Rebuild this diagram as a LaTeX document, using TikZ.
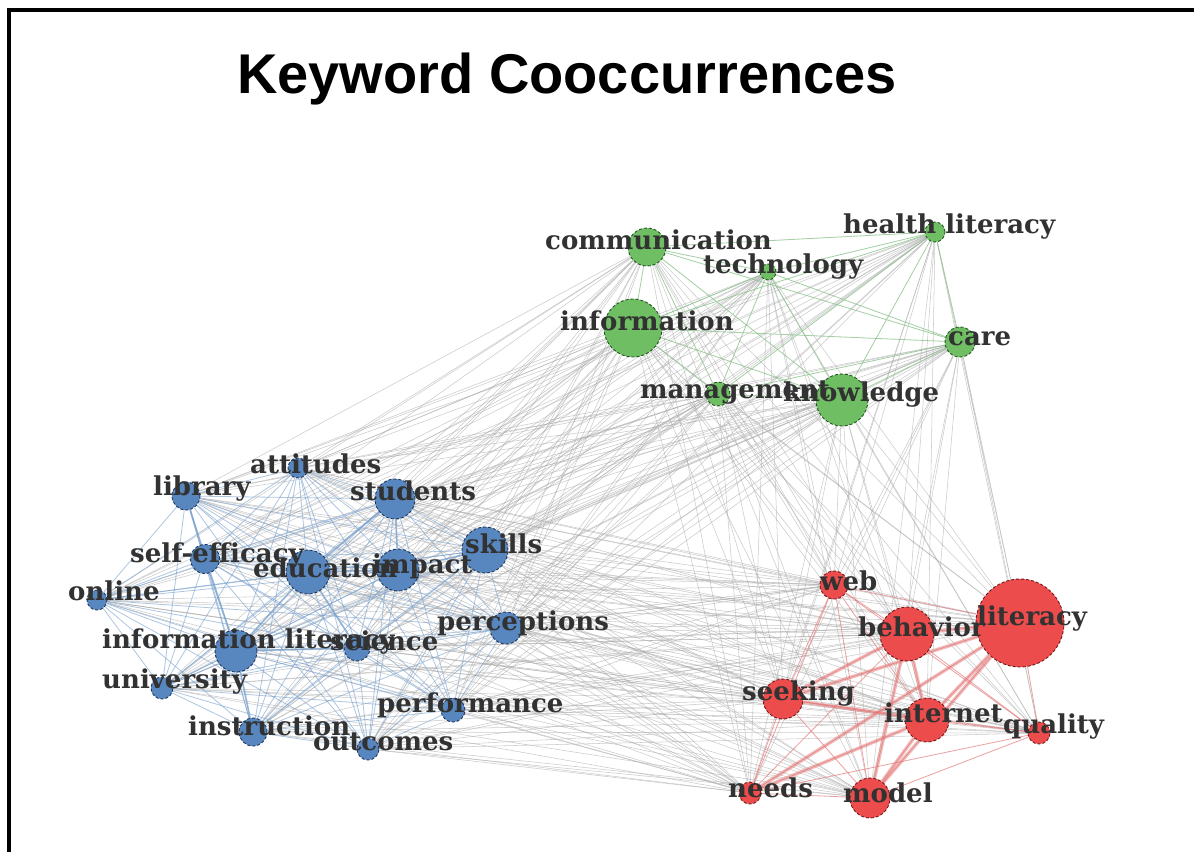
\documentclass[tikz,border=0pt]{standalone}
\usepackage{fontspec}
\setmainfont{DejaVu Serif}
\newfontfamily\titlefont{Liberation Sans}
\pgfdeclarelayer{bg}
\pgfdeclarelayer{edges}
\pgfsetlayers{bg,edges,main}
\definecolor{bfill}{RGB}{88,134,190}
\definecolor{bdraw}{RGB}{30,55,95}
\definecolor{gfill}{RGB}{112,190,100}
\definecolor{gdraw}{RGB}{35,85,35}
\definecolor{rfill}{RGB}{236,76,76}
\definecolor{rdraw}{RGB}{115,25,25}
\definecolor{bedgec}{RGB}{120,160,205}
\definecolor{gedgec}{RGB}{140,195,140}
\definecolor{redgec}{RGB}{228,120,120}
\definecolor{xedgec}{RGB}{170,170,170}
\definecolor{lblc}{RGB}{50,50,50}
\tikzset{
  kw/.style={circle, inner sep=0pt, line width=0.9pt, densely dashed},
  bnode/.style={kw, fill=bfill, draw=bdraw},
  gnode/.style={kw, fill=gfill, draw=gdraw},
  rnode/.style={kw, fill=rfill, draw=rdraw},
  lbl/.style={text=lblc, inner sep=0pt, anchor=base west, font=\bfseries\fontsize{26}{28}\selectfont},
  xedge/.style={draw=xedgec, line width=0.55pt, opacity=0.6},
  bedge/.style={draw=bedgec, line width=0.8pt, opacity=0.6},
  bthick/.style={draw=bedgec, line width=1.8pt, opacity=0.6},
  gedge/.style={draw=gedgec, line width=0.8pt, opacity=0.8},
  redge/.style={draw=redgec, line width=0.8pt, opacity=0.7},
  rthick/.style={draw=redgec, line width=3.5pt, opacity=0.5},
}
\begin{document}
\begin{tikzpicture}[x=1pt,y=-1pt]
\useasboundingbox (0,0) rectangle (1194,852);
\begin{pgfonlayer}{bg}
\fill[white] (0,0) rectangle (1194,852);
\end{pgfonlayer}
\draw[line width=4pt] (9,852) -- (9,10) -- (1194,10);

\node[font=\titlefont\bfseries\fontsize{56}{60}\selectfont, anchor=base, inner sep=0pt] (title) at (567,93) {Keyword Cooccurrences};

% blue cluster
\node[bnode, minimum size=20pt] (att) at (298,468) {};
\node[bnode, minimum size=28pt] (lib) at (186,496) {};
\node[bnode, minimum size=40pt] (stu) at (395,499) {};
\node[bnode, minimum size=46pt] (ski) at (485,550) {};
\node[bnode, minimum size=29pt] (sel) at (205,559) {};
\node[bnode, minimum size=44pt] (edu) at (308,572) {};
\node[bnode, minimum size=42pt] (imp) at (398,570) {};
\node[bnode, minimum size=20pt] (onl) at (97,600) {};
\node[bnode, minimum size=32pt] (per) at (506,628) {};
\node[bnode, minimum size=42pt] (inl) at (236,651) {};
\node[bnode, minimum size=26pt] (sci) at (357,648) {};
\node[bnode, minimum size=22pt] (uni) at (162,688) {};
\node[bnode, minimum size=24pt] (prf) at (453,710) {};
\node[bnode, minimum size=28pt] (ins) at (253,732) {};
\node[bnode, minimum size=22pt] (out) at (368,749) {};
% green cluster
\node[gnode, minimum size=38pt] (com) at (647,247) {};
\node[gnode, minimum size=20pt] (hea) at (935,232) {};
\node[gnode, minimum size=16pt] (tec) at (768,272) {};
\node[gnode, minimum size=58pt] (inf) at (633,328) {};
\node[gnode, minimum size=30pt] (car) at (960,342) {};
\node[gnode, minimum size=24pt] (man) at (718,394) {};
\node[gnode, minimum size=52pt] (kno) at (842,400) {};
% red cluster
\node[rnode, minimum size=28pt] (web) at (834,585) {};
\node[rnode, minimum size=88pt] (lit) at (1020,623) {};
\node[rnode, minimum size=54pt] (beh) at (907,634) {};
\node[rnode, minimum size=40pt] (see) at (783,699) {};
\node[rnode, minimum size=44pt] (int) at (927,720) {};
\node[rnode, minimum size=22pt] (qua) at (1039,733) {};
\node[rnode, minimum size=22pt] (nee) at (750,793) {};
\node[rnode, minimum size=40pt] (mod) at (870,798) {};

\begin{pgfonlayer}{edges}
\foreach \a in {att,lib,stu,ski,sel,edu,imp,onl,per,inl,sci,uni,prf,ins,out}{
  \foreach \b in {com,hea,tec,inf,car,man,kno,web,lit,beh,see,int,qua,nee,mod}{
    \draw[xedge] (\a) -- (\b);}}
\foreach \a in {com,hea,tec,inf,car,man,kno}{
  \foreach \b in {web,lit,beh,see,int,qua,nee,mod}{
    \draw[xedge] (\a) -- (\b);}}
\foreach \a [count=\i] in {att,lib,stu,ski,sel,edu,imp,onl,per,inl,sci,uni,prf,ins,out}{
  \foreach \b [count=\j] in {att,lib,stu,ski,sel,edu,imp,onl,per,inl,sci,uni,prf,ins,out}{
    \ifnum\j>\i \draw[bedge] (\a) -- (\b);\fi}}
\foreach \a/\b in {edu/imp,edu/inl,imp/stu,edu/stu,inl/ins,sel/inl,lib/sel,imp/ski,edu/sci,inl/sci}{
  \draw[bthick] (\a) -- (\b);}
\foreach \a [count=\i] in {com,hea,tec,inf,car,man,kno}{
  \foreach \b [count=\j] in {com,hea,tec,inf,car,man,kno}{
    \ifnum\j>\i \draw[gedge] (\a) -- (\b);\fi}}
\foreach \a [count=\i] in {web,lit,beh,see,int,qua,nee,mod}{
  \foreach \b [count=\j] in {web,lit,beh,see,int,qua,nee,mod}{
    \ifnum\j>\i \draw[redge] (\a) -- (\b);\fi}}
\foreach \a/\b in {beh/lit,int/lit,see/lit,nee/lit,mod/lit,beh/int,beh/see,beh/mod,see/int,int/mod,nee/int}{
  \draw[rthick] (\a) -- (\b);}
\end{pgfonlayer}

% labels (base west)
\node[lbl] (att-t) at (250,473) {attitudes};
\node[lbl] (lib-t) at (153,495) {library};
\node[lbl] (stu-t) at (350,500) {students};
\node[lbl] (ski-t) at (465,553) {skills};
\node[lbl] (sel-t) at (130,562) {self-efficacy};
\node[lbl] (edu-t) at (253,577) {education};
\node[lbl] (imp-t) at (372,573) {impact};
\node[lbl] (onl-t) at (68,600) {online};
\node[lbl] (per-t) at (437,630) {perceptions};
\node[lbl] (inl-t) at (102,648) {information literacy};
\node[lbl] (sci-t) at (330,650) {science};
\node[lbl] (uni-t) at (102,688) {university};
\node[lbl] (prf-t) at (377,712) {performance};
\node[lbl] (ins-t) at (188,735) {instruction};
\node[lbl] (out-t) at (313,750) {outcomes};
\node[lbl] (com-t) at (545,249) {communication};
\node[lbl] (hea-t) at (843,233) {health literacy};
\node[lbl] (tec-t) at (703,273) {technology};
\node[lbl] (inf-t) at (560,330) {information};
\node[lbl] (car-t) at (948,345) {care};
\node[lbl] (man-t) at (640,398) {management};
\node[lbl] (kno-t) at (783,401) {knowledge};
\node[lbl] (web-t) at (820,590) {web};
\node[lbl] (lit-t) at (977,625) {literacy};
\node[lbl] (beh-t) at (858,636) {behavior};
\node[lbl] (see-t) at (742,700) {seeking};
\node[lbl] (int-t) at (884,722) {internet};
\node[lbl] (qua-t) at (1003,733) {quality};
\node[lbl] (nee-t) at (728,797) {needs};
\node[lbl] (mod-t) at (843,802) {model};
\end{tikzpicture}
\end{document}
